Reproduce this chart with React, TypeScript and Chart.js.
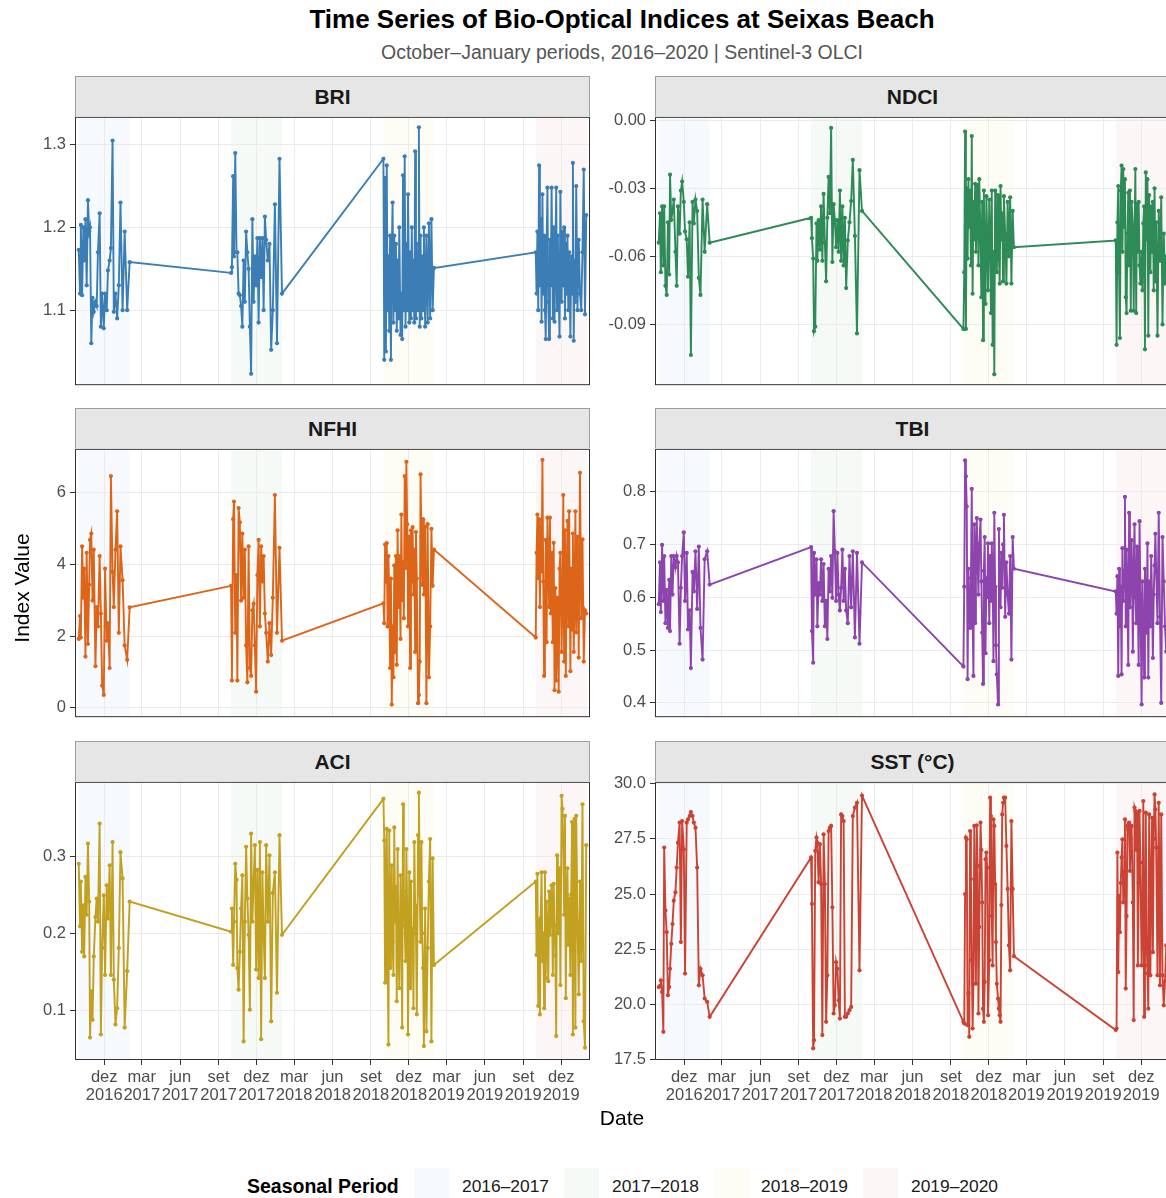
import React, { useEffect, useRef } from 'react';
import { Chart, registerables } from 'chart.js';

Chart.register(...registerables);

const FONT = '"Liberation Sans", Arial, Helvetica, sans-serif';

// ---------- Data ----------
const SEASON_LABELS = ['2016–2017', '2017–2018', '2018–2019', '2019–2020'];
const SEASON_STARTS = ['2016-10-01', '2017-10-01', '2018-10-01', '2019-10-01'];
const SEASON_ENDS = ['2017-01-31', '2018-01-31', '2019-01-31', '2020-01-31'];

// observation day offsets (days after 1 October of each season)
const DAYS_1 = [0, 3, 5, 8, 11, 13, 16, 19, 22, 25, 27, 30, 33, 36, 40, 43, 46, 50, 53, 56, 60, 63, 67, 70, 74, 77, 81, 84, 88, 92, 96, 100, 105, 110, 116, 122];
const DAYS_2 = [0, 2, 5, 7, 10, 13, 15, 18, 21, 24, 27, 30, 33, 36, 39, 42, 45, 48, 51, 54, 57, 60, 63, 66, 69, 72, 75, 78, 81, 84, 88, 92, 96, 100, 105, 110, 116, 122];
const DAYS_3 = [0, 2, 4, 6, 8, 10, 12, 14, 16, 18, 20, 22, 24, 26, 28, 30, 32, 34, 36, 38, 41, 43, 45, 47, 49, 51, 53, 55, 57, 59, 62, 64, 66, 68, 70, 72, 74, 76, 78, 80, 83, 85, 87, 89, 91, 93, 95, 97, 100, 103, 106, 109, 112, 115, 118, 121];
const DAYS_4 = [0, 2, 4, 6, 8, 10, 12, 14, 16, 18, 20, 22, 24, 26, 28, 30, 32, 34, 36, 38, 41, 43, 45, 47, 49, 51, 53, 55, 57, 59, 62, 64, 66, 68, 70, 72, 74, 76, 78, 80, 83, 85, 87, 89, 91, 93, 95, 97, 100, 103, 106, 109, 112, 115, 118, 121];

const BRI_1 = [1.173, 1.12, 1.203, 1.118, 1.2, 1.16, 1.21, 1.13, 1.233, 1.195, 1.2, 1.06, 1.115, 1.098, 1.11, 1.105, 1.17, 1.217, 1.08, 1.12, 1.078, 1.12, 1.10, 1.148, 1.16, 1.175, 1.305, 1.098, 1.12, 1.09, 1.13, 1.23, 1.10, 1.195, 1.10, 1.158];
const BRI_2 = [1.145, 1.152, 1.262, 1.165, 1.29, 1.17, 1.17, 1.12, 1.118, 1.105, 1.08, 1.16, 1.11, 1.195, 1.17, 1.15, 1.08, 1.023, 1.21, 1.11, 1.165, 1.13, 1.187, 1.085, 1.187, 1.14, 1.187, 1.10, 1.213, 1.185, 1.16, 1.18, 1.052, 1.10, 1.228, 1.06, 1.283, 1.12];
const BRI_3 = [1.283, 1.04, 1.26, 1.05, 1.275, 1.10, 1.165, 1.075, 1.19, 1.04, 1.17, 1.23, 1.085, 1.19, 1.10, 1.18, 1.075, 1.16, 1.09, 1.2, 1.07, 1.12, 1.065, 1.263, 1.10, 1.286, 1.08, 1.18, 1.10, 1.24, 1.085, 1.17, 1.09, 1.20, 1.10, 1.16, 1.085, 1.292, 1.09, 1.18, 1.10, 1.321, 1.08, 1.19, 1.09, 1.165, 1.10, 1.20, 1.08, 1.19, 1.085, 1.205, 1.09, 1.21, 1.10, 1.151];
const BRI_4 = [1.17, 1.12, 1.195, 1.10, 1.275, 1.13, 1.21, 1.086, 1.24, 1.12, 1.19, 1.10, 1.065, 1.175, 1.248, 1.11, 1.065, 1.185, 1.13, 1.248, 1.09, 1.20, 1.086, 1.16, 1.248, 1.10, 1.19, 1.12, 1.068, 1.243, 1.11, 1.195, 1.13, 1.20, 1.09, 1.18, 1.12, 1.19, 1.10, 1.17, 1.068, 1.165, 1.12, 1.278, 1.063, 1.16, 1.11, 1.25, 1.10, 1.185, 1.12, 1.10, 1.17, 1.27, 1.095, 1.215];

const NDCI_1 = [-0.054, -0.041, -0.067, -0.038, -0.064, -0.038, -0.073, -0.077, -0.045, -0.068, -0.024, -0.044, -0.040, -0.035, -0.058, -0.073, -0.038, -0.050, -0.031, -0.027, -0.036, -0.049, -0.0525, -0.069, -0.045, -0.1035, -0.036, -0.0455, -0.035, -0.040, -0.0695, -0.077, -0.035, -0.058, -0.037, -0.054];
const NDCI_2 = [-0.043, -0.052, -0.061, -0.093, -0.091, -0.0455, -0.062, -0.044, -0.057, -0.038, -0.062, -0.0325, -0.054, -0.071, -0.043, -0.025, -0.041, -0.0034, -0.0625, -0.037, -0.044, -0.056, -0.044, -0.058, -0.031, -0.062, -0.038, -0.064, -0.043, -0.074, -0.053, -0.045, -0.0356, -0.0175, -0.051, -0.094, -0.022, -0.040];
const NDCI_3 = [-0.092, -0.067, -0.005, -0.092, -0.030, -0.061, -0.026, -0.047, -0.031, -0.064, -0.007, -0.0765, -0.036, -0.0525, -0.028, -0.058, -0.041, -0.0285, -0.064, -0.026, -0.0525, -0.078, -0.036, -0.097, -0.031, -0.064, -0.081, -0.0335, -0.050, -0.075, -0.035, -0.0525, -0.085, -0.031, -0.099, -0.058, -0.112, -0.031, -0.0455, -0.067, -0.033, -0.061, -0.072, -0.029, -0.0525, -0.041, -0.071, -0.0335, -0.050, -0.072, -0.036, -0.060, -0.034, -0.072, -0.040, -0.056];
const NDCI_4 = [-0.053, -0.099, -0.045, -0.029, -0.067, -0.096, -0.031, -0.020, -0.058, -0.0215, -0.047, -0.026, -0.078, -0.085, -0.050, -0.032, -0.064, -0.031, -0.084, -0.036, -0.047, -0.084, -0.050, -0.0215, -0.085, -0.037, -0.058, -0.036, -0.064, -0.072, -0.058, -0.075, -0.0455, -0.038, -0.101, -0.023, -0.0525, -0.026, -0.095, -0.033, -0.067, -0.038, -0.058, -0.036, -0.075, -0.030, -0.071, -0.045, -0.095, -0.040, -0.062, -0.034, -0.090, -0.050, -0.072, -0.060];

const NFHI_1 = [1.92, 2.56, 1.96, 4.50, 3.07, 3.88, 1.43, 4.32, 1.78, 3.43, 4.68, 4.86, 2.99, 4.41, 1.16, 2.81, 2.27, 4.23, 2.63, 0.62, 0.36, 3.88, 1.87, 2.36, 1.11, 6.46, 3.79, 2.81, 4.41, 5.48, 2.09, 4.50, 3.56, 1.74, 1.34, 2.80];
const NFHI_2 = [3.40, 0.76, 5.26, 5.75, 2.09, 3.70, 0.76, 5.57, 5.17, 2.99, 4.86, 3.07, 4.41, 1.74, 0.71, 4.50, 1.11, 0.89, 2.72, 2.90, 1.74, 0.45, 3.70, 4.68, 2.27, 4.50, 3.52, 4.23, 2.63, 2.09, 1.29, 2.36, 1.47, 3.07, 5.93, 2.09, 4.46, 1.87];
const NFHI_3 = [2.91, 2.36, 4.55, 3.52, 4.59, 2.27, 4.23, 3.20, 1.11, 3.60, 0.09, 2.27, 0.85, 3.97, 1.56, 4.23, 1.20, 4.95, 2.81, 4.23, 1.92, 5.39, 3.0, 4.06, 2.5, 6.46, 3.9, 6.86, 5.12, 2.27, 4.77, 1.11, 4.95, 3.52, 5.04, 3.16, 4.41, 1.56, 4.9, 3.6, 0.13, 0.36, 1.29, 6.51, 4.77, 3.43, 5.26, 3.16, 5.04, 0.13, 5.12, 0.85, 2.27, 4.99, 3.4, 4.41];
const NFHI_4 = [1.96, 4.32, 5.39, 3.61, 5.26, 2.81, 5.04, 3.80, 6.91, 3.52, 0.89, 2.45, 4.68, 1.83, 5.30, 4.41, 2.81, 5.30, 2.63, 4.32, 1.83, 4.60, 0.49, 3.34, 0.76, 3.07, 1.9, 0.45, 3.88, 4.32, 1.56, 3.2, 5.93, 1.29, 4.95, 0.89, 3.6, 5.21, 2.27, 5.48, 1.02, 3.88, 2.18, 4.86, 1.56, 2.99, 5.48, 2.1, 4.77, 1.4, 6.55, 2.5, 4.7, 1.29, 2.72, 2.63];

const TBI_1 = [0.587, 0.666, 0.572, 0.699, 0.593, 0.678, 0.551, 0.614, 0.542, 0.633, 0.536, 0.678, 0.605, 0.678, 0.657, 0.678, 0.666, 0.512, 0.618, 0.678, 0.723, 0.593, 0.684, 0.539, 0.575, 0.466, 0.648, 0.611, 0.687, 0.578, 0.696, 0.542, 0.482, 0.672, 0.687, 0.624];
const TBI_2 = [0.695, 0.536, 0.476, 0.684, 0.605, 0.672, 0.545, 0.627, 0.605, 0.672, 0.593, 0.663, 0.545, 0.593, 0.521, 0.654, 0.611, 0.678, 0.599, 0.763, 0.687, 0.593, 0.684, 0.605, 0.575, 0.618, 0.690, 0.593, 0.654, 0.575, 0.551, 0.678, 0.581, 0.687, 0.524, 0.684, 0.512, 0.666];
const TBI_3 = [0.469, 0.620, 0.859, 0.829, 0.772, 0.445, 0.654, 0.600, 0.542, 0.636, 0.805, 0.560, 0.451, 0.738, 0.551, 0.690, 0.750, 0.666, 0.605, 0.700, 0.747, 0.630, 0.533, 0.436, 0.650, 0.714, 0.494, 0.636, 0.600, 0.702, 0.551, 0.678, 0.593, 0.702, 0.640, 0.479, 0.760, 0.620, 0.509, 0.454, 0.397, 0.729, 0.620, 0.581, 0.684, 0.618, 0.700, 0.756, 0.563, 0.666, 0.605, 0.569, 0.678, 0.482, 0.714, 0.654];
const TBI_4 = [0.611, 0.569, 0.640, 0.451, 0.654, 0.545, 0.620, 0.454, 0.693, 0.593, 0.650, 0.790, 0.545, 0.690, 0.600, 0.472, 0.760, 0.581, 0.640, 0.708, 0.497, 0.666, 0.738, 0.600, 0.551, 0.696, 0.580, 0.472, 0.744, 0.605, 0.397, 0.630, 0.560, 0.448, 0.654, 0.590, 0.533, 0.702, 0.448, 0.630, 0.545, 0.678, 0.600, 0.485, 0.605, 0.660, 0.720, 0.648, 0.551, 0.760, 0.563, 0.400, 0.714, 0.630, 0.545, 0.497];

const ACI_1 = [0.290, 0.209, 0.267, 0.176, 0.236, 0.170, 0.273, 0.224, 0.316, 0.241, 0.065, 0.125, 0.088, 0.170, 0.221, 0.245, 0.215, 0.342, 0.069, 0.181, 0.249, 0.146, 0.262, 0.219, 0.288, 0.146, 0.318, 0.140, 0.082, 0.103, 0.181, 0.305, 0.271, 0.078, 0.151, 0.241];
const ACI_2 = [0.202, 0.232, 0.159, 0.215, 0.290, 0.269, 0.155, 0.127, 0.176, 0.232, 0.275, 0.060, 0.215, 0.312, 0.245, 0.198, 0.101, 0.329, 0.215, 0.267, 0.314, 0.153, 0.282, 0.142, 0.318, 0.063, 0.279, 0.198, 0.142, 0.314, 0.215, 0.301, 0.086, 0.252, 0.279, 0.123, 0.327, 0.198];
const ACI_3 = [0.374, 0.320, 0.136, 0.280, 0.335, 0.189, 0.056, 0.333, 0.155, 0.250, 0.288, 0.189, 0.146, 0.337, 0.215, 0.260, 0.112, 0.309, 0.181, 0.129, 0.275, 0.200, 0.078, 0.367, 0.254, 0.210, 0.164, 0.309, 0.230, 0.069, 0.279, 0.129, 0.267, 0.180, 0.206, 0.103, 0.318, 0.236, 0.200, 0.095, 0.327, 0.382, 0.250, 0.189, 0.318, 0.200, 0.155, 0.054, 0.232, 0.073, 0.181, 0.267, 0.322, 0.060, 0.297, 0.159];
const ACI_4 = [0.267, 0.172, 0.277, 0.106, 0.217, 0.095, 0.220, 0.279, 0.164, 0.200, 0.103, 0.279, 0.142, 0.241, 0.200, 0.138, 0.254, 0.198, 0.230, 0.262, 0.146, 0.264, 0.210, 0.172, 0.067, 0.301, 0.241, 0.200, 0.284, 0.133, 0.378, 0.361, 0.314, 0.224, 0.352, 0.116, 0.250, 0.284, 0.185, 0.245, 0.146, 0.250, 0.344, 0.069, 0.230, 0.348, 0.078, 0.352, 0.215, 0.121, 0.267, 0.164, 0.367, 0.086, 0.052, 0.314];

const SST_1 = [20.78, 20.83, 21.08, 20.56, 18.75, 27.11, 24.25, 23.27, 20.41, 20.78, 21.61, 22.74, 23.64, 24.70, 25.08, 26.20, 27.33, 28.24, 22.82, 28.31, 27.03, 21.39, 28.24, 28.39, 28.54, 28.72, 28.54, 28.24, 28.01, 26.20, 20.86, 21.61, 21.31, 20.26, 20.11, 19.43];
const SST_2 = [26.66, 24.55, 18.00, 18.37, 26.96, 27.56, 27.33, 25.53, 27.26, 25.45, 18.60, 27.71, 25.45, 19.20, 21.31, 27.86, 28.01, 28.09, 24.40, 19.58, 19.96, 21.91, 21.61, 20.18, 19.35, 28.61, 28.54, 28.31, 19.43, 19.43, 19.58, 19.73, 19.88, 28.54, 28.92, 29.14, 21.54, 29.47];
const SST_3 = [19.20, 19.13, 25.00, 27.56, 27.48, 19.05, 20.50, 18.52, 27.86, 25.68, 22.00, 18.90, 20.93, 28.09, 24.00, 20.93, 28.12, 26.28, 19.58, 23.50, 28.24, 27.00, 24.62, 19.80, 19.20, 21.01, 26.58, 26.88, 26.20, 19.50, 22.00, 29.37, 28.54, 24.00, 21.76, 28.39, 28.09, 25.45, 22.82, 20.93, 20.26, 19.80, 19.50, 19.20, 24.50, 28.61, 29.14, 29.37, 29.37, 27.18, 25.23, 22.67, 21.54, 28.31, 25.23, 22.18];
const SST_4 = [18.83, 18.90, 26.88, 21.46, 24.92, 23.27, 25.50, 26.66, 27.48, 24.62, 26.00, 28.39, 20.71, 24.00, 28.09, 27.94, 28.24, 26.05, 27.50, 28.09, 24.62, 19.28, 28.92, 28.77, 27.00, 28.69, 21.76, 25.50, 28.77, 26.43, 21.76, 24.00, 29.22, 19.43, 21.76, 28.69, 23.00, 21.39, 19.80, 28.61, 21.31, 26.00, 28.46, 22.36, 27.50, 29.52, 28.84, 27.11, 21.31, 29.14, 20.86, 28.61, 21.31, 19.95, 21.01, 22.67];

// axis ticks
const X_MIN = '2016-09-22';
const X_MAX = '2020-02-08';
const X_TICK_DATES = ['2016-12-01', '2017-03-01', '2017-06-01', '2017-09-01', '2017-12-01', '2018-03-01', '2018-06-01', '2018-09-01', '2018-12-01', '2019-03-01', '2019-06-01', '2019-09-01', '2019-12-01'];
const X_TICK_MONTHS = ['dez', 'mar', 'jun', 'set', 'dez', 'mar', 'jun', 'set', 'dez', 'mar', 'jun', 'set', 'dez'];
const X_TICK_YEARS = ['2016', '2017', '2017', '2017', '2017', '2018', '2018', '2018', '2018', '2019', '2019', '2019', '2019'];

const BRI_TICKS = [1.1, 1.2, 1.3];
const NDCI_TICKS = [-0.09, -0.06, -0.03, 0];
const NFHI_TICKS = [0, 2, 4, 6];
const TBI_TICKS = [0.4, 0.5, 0.6, 0.7, 0.8];
const ACI_TICKS = [0.1, 0.2, 0.3];
const SST_TICKS = [17.5, 20, 22.5, 25, 27.5, 30];

// ---------- Layout / style ----------
const BAND_COLORS = ['#f6f9fd', '#f5faf6', '#fdfcf5', '#fdf6f6'];
const COL_LEFT = [75, 655];
const ROW_TOP = [116, 448, 781];
const PLOT_W = 515;
const PLOT_H = 279;
const AXIS_W = 75;
const PAD_TOP = 12;
const X_AXIS_H = 50;
const STRIP_H = 40;

const dayNum = (s: string) => {
  const [y, m, d] = s.split('-').map(Number);
  return Date.UTC(y, m - 1, d) / 86400000;
};

type PanelCfg = {
  name: string;
  color: string;
  seasons: number[][];
  yMin: number;
  yMax: number;
  yTicks: number[];
  dec: number;
  row: number;
  col: number;
};

const SEASON_DAYS = [DAYS_1, DAYS_2, DAYS_3, DAYS_4];

const PANELS: PanelCfg[] = [
  { name: 'BRI', color: '#3a7eb5', seasons: [BRI_1, BRI_2, BRI_3, BRI_4], yMin: 1.0093, yMax: 1.3337, yTicks: BRI_TICKS, dec: 1, row: 0, col: 0 },
  { name: 'NDCI', color: '#2e8b57', seasons: [NDCI_1, NDCI_2, NDCI_3, NDCI_4], yMin: -0.1168, yMax: 0.0015, yTicks: NDCI_TICKS, dec: 2, row: 0, col: 1 },
  { name: 'NFHI', color: '#dd6519', seasons: [NFHI_1, NFHI_2, NFHI_3, NFHI_4], yMin: -0.26, yMax: 7.22, yTicks: NFHI_TICKS, dec: 0, row: 1, col: 0 },
  { name: 'TBI', color: '#8e44ad', seasons: [TBI_1, TBI_2, TBI_3, TBI_4], yMin: 0.373, yMax: 0.881, yTicks: TBI_TICKS, dec: 1, row: 1, col: 1 },
  { name: 'ACI', color: '#c2a020', seasons: [ACI_1, ACI_2, ACI_3, ACI_4], yMin: 0.036, yMax: 0.396, yTicks: ACI_TICKS, dec: 1, row: 2, col: 0 },
  { name: 'SST (°C)', color: '#cb4335', seasons: [SST_1, SST_2, SST_3, SST_4], yMin: 17.47, yMax: 30.09, yTicks: SST_TICKS, dec: 1, row: 2, col: 1 },
];

const bandPlugin = {
  id: 'seasonBands',
  beforeDraw(chart: any) {
    const { ctx, chartArea: a, scales } = chart;
    const x = scales.x;
    ctx.save();
    ctx.beginPath();
    ctx.rect(a.left, a.top, a.right - a.left, a.bottom - a.top);
    ctx.clip();
    SEASON_STARTS.forEach((s, i) => {
      const x0 = x.getPixelForValue(dayNum(s));
      const x1 = x.getPixelForValue(dayNum(SEASON_ENDS[i]));
      ctx.fillStyle = BAND_COLORS[i];
      ctx.fillRect(x0, a.top, x1 - x0, a.bottom - a.top);
    });
    ctx.restore();
  },
};

const borderPlugin = {
  id: 'panelBorder',
  afterDatasetsDraw(chart: any) {
    const { ctx, chartArea: a } = chart;
    ctx.save();
    ctx.strokeStyle = '#333333';
    ctx.lineWidth = 1;
    ctx.strokeRect(a.left + 0.5, a.top + 0.5, a.right - a.left - 1, a.bottom - a.top - 1);
    ctx.restore();
  },
};

function Panel({ cfg }: { cfg: PanelCfg }) {
  const ref = useRef<HTMLCanvasElement | null>(null);
  const bottom = cfg.row === 2;
  const left = COL_LEFT[cfg.col] - AXIS_W;
  const top = ROW_TOP[cfg.row] - PAD_TOP;
  const w = AXIS_W + PLOT_W + 5;
  const h = PAD_TOP + PLOT_H + (bottom ? X_AXIS_H : 3);

  useEffect(() => {
    const canvas = ref.current;
    if (!canvas) return;
    const points: { x: number; y: number }[] = [];
    SEASON_DAYS.forEach((days, si) => {
      const start = dayNum(SEASON_STARTS[si]);
      const vals = cfg.seasons[si];
      days.forEach((d, k) => points.push({ x: start + d, y: vals[k] }));
    });
    const xTicks = X_TICK_DATES.map(dayNum);
    const tickFont = { family: FONT, size: 16.5, lineHeight: 1.07 };
    const chart = new Chart(canvas, {
      type: 'line',
      data: {
        datasets: [
          {
            data: points,
            borderColor: cfg.color,
            backgroundColor: cfg.color,
            borderWidth: 1.9,
            pointRadius: 2.1,
            pointBorderWidth: 0,
            pointHoverRadius: 0,
            tension: 0,
            fill: false,
          },
        ],
      },
      options: {
        animation: false,
        responsive: false,
        maintainAspectRatio: false,
        events: [],
        layout: { padding: { top: PAD_TOP, right: 5, bottom: bottom ? 0 : 3, left: 0 } },
        plugins: { legend: { display: false }, tooltip: { enabled: false }, title: { display: false } },
        scales: {
          x: {
            type: 'linear',
            min: dayNum(X_MIN),
            max: dayNum(X_MAX),
            afterBuildTicks: (s: any) => {
              s.ticks = xTicks.map((v) => ({ value: v }));
            },
            afterFit: (s: any) => {
              s.height = bottom ? X_AXIS_H : 0;
            },
            grid: { color: '#ebebeb', lineWidth: 1, drawTicks: bottom, tickLength: 5, tickColor: '#333333' },
            border: { display: false },
            ticks: {
              display: bottom,
              autoSkip: false,
              maxRotation: 0,
              minRotation: 0,
              padding: 4,
              color: '#4d4d4d',
              font: tickFont,
              callback: (_v: any, i: number) => [X_TICK_MONTHS[i], X_TICK_YEARS[i]],
            },
          },
          y: {
            type: 'linear',
            min: cfg.yMin,
            max: cfg.yMax,
            afterBuildTicks: (s: any) => {
              s.ticks = cfg.yTicks.map((v) => ({ value: v }));
            },
            afterFit: (s: any) => {
              s.width = AXIS_W;
            },
            grid: { color: '#ebebeb', lineWidth: 1, drawTicks: true, tickLength: 5, tickColor: '#333333' },
            border: { display: false },
            ticks: {
              padding: 4,
              color: '#4d4d4d',
              font: tickFont,
              callback: (v: any) => Number(v).toFixed(cfg.dec),
            },
          },
        },
      } as any,
      plugins: [bandPlugin, borderPlugin],
    });
    return () => chart.destroy();
  }, []);

  return (
    <canvas
      ref={ref}
      width={w}
      height={h}
      style={{ position: 'absolute', left, top, width: w, height: h }}
    />
  );
}

function Strip({ cfg }: { cfg: PanelCfg }) {
  return (
    <div
      style={{
        position: 'absolute',
        left: COL_LEFT[cfg.col],
        top: ROW_TOP[cfg.row] - STRIP_H,
        width: PLOT_W,
        height: STRIP_H,
        boxSizing: 'border-box',
        background: '#e6e6e6',
        border: '1px solid #9e9e9e',
        borderBottom: 'none',
        textAlign: 'center',
        lineHeight: `${STRIP_H}px`,
        fontSize: 21,
        fontWeight: 'bold',
        color: '#1a1a1a',
        fontFamily: FONT,
      }}
    >
      {cfg.name}
    </div>
  );
}

const LEGEND_SWATCH_X = [414, 564, 714, 863];
const LEGEND_LABEL_X = [462, 612, 761, 911];

export default function App() {
  return (
    <div
      style={{
        position: 'absolute',
        left: 0,
        top: 0,
        width: 1166,
        height: 1198,
        overflow: 'hidden',
        background: '#ffffff',
        fontFamily: FONT,
      }}
    >
      <div
        style={{
          position: 'absolute',
          left: 0,
          width: 1244,
          top: 4,
          lineHeight: '30px',
          textAlign: 'center',
          fontSize: 26,
          fontWeight: 'bold',
          color: '#000',
        }}
      >
        Time Series of Bio-Optical Indices at Seixas Beach
      </div>
      <div
        style={{
          position: 'absolute',
          left: 0,
          width: 1244,
          top: 40,
          lineHeight: '24px',
          textAlign: 'center',
          fontSize: 19.5,
          color: '#555555',
        }}
      >
        October–January periods, 2016–2020 | Sentinel-3 OLCI
      </div>

      {PANELS.map((p) => (
        <Panel key={p.name} cfg={p} />
      ))}
      {PANELS.map((p) => (
        <Strip key={'s' + p.name} cfg={p} />
      ))}

      <div
        style={{
          position: 'absolute',
          left: 22 - 150,
          top: 588 - 13,
          width: 300,
          lineHeight: '26px',
          textAlign: 'center',
          fontSize: 21,
          color: '#000',
          transform: 'rotate(-90deg)',
        }}
      >
        Index Value
      </div>
      <div
        style={{
          position: 'absolute',
          left: 522,
          top: 1105,
          width: 200,
          lineHeight: '26px',
          textAlign: 'center',
          fontSize: 21,
          color: '#000',
        }}
      >
        Date
      </div>

      <div
        style={{
          position: 'absolute',
          left: 247,
          top: 1173,
          lineHeight: '26px',
          fontSize: 19.5,
          fontWeight: 'bold',
          color: '#000',
          whiteSpace: 'nowrap',
        }}
      >
        Seasonal Period
      </div>
      {SEASON_LABELS.map((lab, i) => (
        <React.Fragment key={lab}>
          <div
            style={{
              position: 'absolute',
              left: LEGEND_SWATCH_X[i],
              top: 1168,
              width: 35,
              height: 35,
              background: BAND_COLORS[i],
            }}
          />
          <div
            style={{
              position: 'absolute',
              left: LEGEND_LABEL_X[i],
              top: 1174,
              lineHeight: '24px',
              fontSize: 17.4,
              color: '#1a1a1a',
              whiteSpace: 'nowrap',
            }}
          >
            {lab}
          </div>
        </React.Fragment>
      ))}
    </div>
  );
}
